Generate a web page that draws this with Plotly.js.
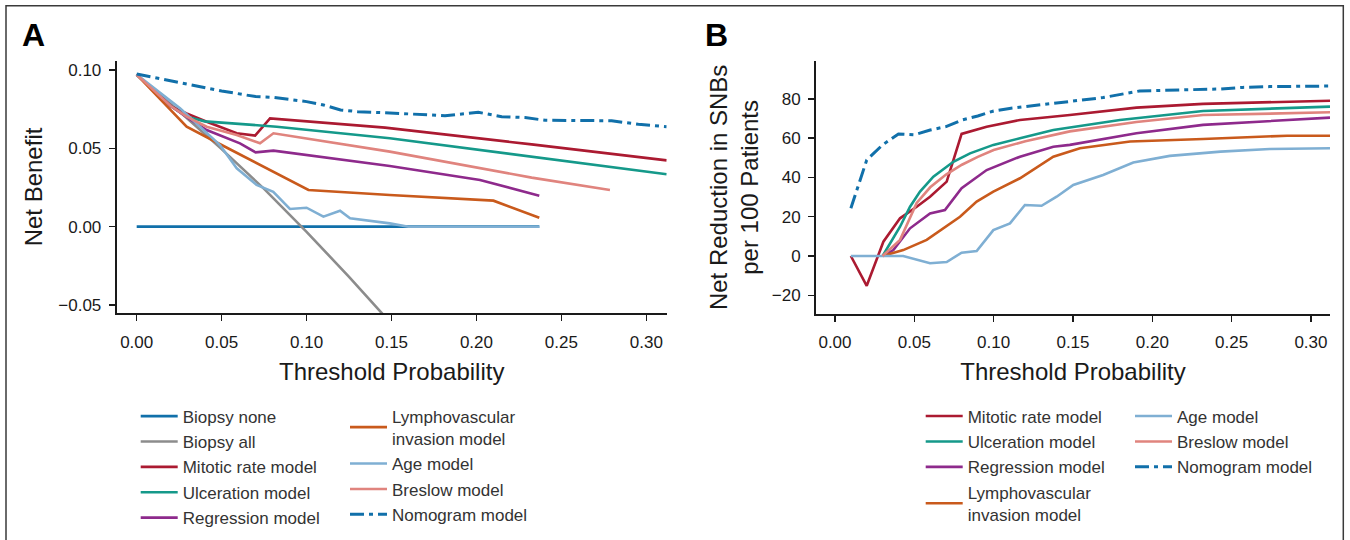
<!DOCTYPE html>
<html>
<head>
<meta charset="utf-8">
<script src="https://cdn.plot.ly/plotly-3.0.1.min.js"></script>
<style>html,body{margin:0;padding:0;background:#fff;}#chart{width:1350px;height:540px;}</style>
</head>
<body>
<div id="chart"></div>
<script>
// ---------- Panel A: Net Benefit ----------
const noneAX = [0, 0.237];
const noneAY = [0, 0];
const allAX = [0, 0.025, 0.05, 0.075, 0.1, 0.125, 0.15];
const allAY = [0.097, 0.0737, 0.0495, 0.0241, -0.0033, -0.032, -0.062];
const mitoticAX = [0, 0.0206, 0.0294, 0.0412, 0.0589, 0.0697, 0.0785, 0.1462, 0.2325, 0.312];
const mitoticAY = [0.097, 0.0766, 0.0723, 0.0670, 0.0596, 0.0581, 0.0691, 0.0632, 0.0525, 0.0423];
const ulcerAX = [0, 0.02, 0.0294, 0.04, 0.0824, 0.149, 0.312];
const ulcerAY = [0.097, 0.077, 0.0702, 0.0672, 0.0638, 0.0564, 0.0334];
const regressAX = [0, 0.02, 0.03, 0.0412, 0.0608, 0.07, 0.0805, 0.149, 0.2021, 0.237];
const regressAY = [0.097, 0.077, 0.0695, 0.0617, 0.0532, 0.0474, 0.0485, 0.0387, 0.0298, 0.0198];
const lymphAX = [0, 0.0294, 0.05, 0.1011, 0.149, 0.21, 0.237];
const lymphAY = [0.097, 0.0638, 0.0521, 0.0234, 0.0202, 0.0166, 0.0057];
const ageAX = [0, 0.0255, 0.049, 0.0589, 0.0706, 0.0804, 0.0902, 0.1, 0.1099, 0.1197, 0.1256, 0.149, 0.16, 0.237];
const ageAY = [0.097, 0.0755, 0.0521, 0.0372, 0.0266, 0.0223, 0.0113, 0.0121, 0.0064, 0.0102, 0.0053, 0.0021, 0, 0];
const breslowAX = [0, 0.02, 0.0294, 0.0412, 0.0589, 0.0726, 0.0805, 0.149, 0.2325, 0.2786];
const breslowAY = [0.097, 0.077, 0.0702, 0.0638, 0.0585, 0.0532, 0.0596, 0.0479, 0.0313, 0.0234];
const nomoAX = [0, 0.03, 0.05, 0.07, 0.08, 0.10, 0.11, 0.12, 0.13, 0.1462, 0.1815, 0.2011, 0.2149, 0.2286, 0.2404, 0.2796, 0.2953, 0.312];
const nomoAY = [0.0974, 0.091, 0.0866, 0.083, 0.0825, 0.0798, 0.0776, 0.0745, 0.0734, 0.0727, 0.0708, 0.0730, 0.0702, 0.0696, 0.0679, 0.0676, 0.0653, 0.0638];

// ---------- Panel B: Net reduction in SNBs per 100 patients ----------
const mitoticBX = [0.01, 0.02, 0.0305, 0.041, 0.0515, 0.0599, 0.0704, 0.0798, 0.0956, 0.1166, 0.148, 0.19, 0.232, 0.312];
const mitoticBY = [0, -15.2, 7.3, 19.2, 25.1, 30.2, 37.9, 62.2, 65.9, 69.3, 71.8, 75.6, 77.5, 79.1];
const ulcerBX = [0.03, 0.041, 0.0473, 0.0536, 0.062, 0.0746, 0.0851, 0.0998, 0.1166, 0.1376, 0.1796, 0.232, 0.312];
const ulcerBY = [0, 14.9, 25.1, 32.8, 40.4, 48, 52.3, 56.6, 60, 64.2, 69.3, 73.9, 76.1];
const regressBX = [0.03, 0.0368, 0.0473, 0.0599, 0.0693, 0.0798, 0.0956, 0.1166, 0.1376, 0.148, 0.19, 0.232, 0.312];
const regressBY = [0, 3, 14.1, 21.7, 23.4, 34.5, 43.8, 50.6, 55.7, 56.6, 62.5, 66.8, 70.5];
const lymphBX = [0.03, 0.043, 0.0578, 0.0683, 0.0788, 0.0893, 0.0998, 0.1166, 0.1292, 0.1376, 0.1544, 0.186, 0.232, 0.285, 0.312];
const lymphBY = [0, 3, 8.2, 14.1, 20, 27.7, 32.8, 39.6, 46.4, 50.6, 54.9, 58.3, 59.6, 61.3, 61.3];
const ageBX = [0.01, 0.043, 0.0599, 0.0704, 0.0798, 0.0893, 0.0998, 0.1103, 0.1197, 0.1302, 0.1397, 0.1502, 0.169, 0.188, 0.211, 0.243, 0.274, 0.312];
const ageBY = [0, 0, -3.7, -3.1, 1.7, 2.5, 13.2, 16.6, 26, 25.6, 30.2, 36.2, 41.3, 47.6, 51, 53.2, 54.5, 54.9];
const breslowBX = [0.03, 0.041, 0.0515, 0.06, 0.07, 0.08, 0.09, 0.10, 0.12, 0.148, 0.19, 0.232, 0.312];
const breslowBY = [0, 8.2, 27, 35, 41.5, 46.5, 50.5, 54, 58.5, 63.5, 68.3, 71.8, 73.2];
const nomoBX = [0.01, 0.02, 0.03, 0.04, 0.05, 0.06, 0.07, 0.08, 0.09, 0.10, 0.11, 0.12, 0.13, 0.14, 0.15, 0.169, 0.192, 0.211, 0.243, 0.257, 0.274, 0.312];
const nomoBY = [24.3, 48.9, 56.6, 62.2, 61.7, 64.2, 65.9, 69.3, 71.3, 73.9, 75.2, 76.1, 77.3, 78.1, 79.1, 80.7, 84.1, 84.6, 85.1, 85.9, 86.3, 86.6];

// tick labels
const xTickVals = [0, 0.05, 0.10, 0.15, 0.20, 0.25, 0.30];
const yTickValsA = [-0.05, 0, 0.05, 0.10];
const yTickValsB = [-20, 0, 20, 40, 60, 80];

const C = {
  none: '#1170aa', all: '#8c8c8c', mitotic: '#ab1a31', ulcer: '#15998a',
  regress: '#8e2a8c', lymph: '#c95a1c', age: '#7fafd3', breslow: '#e0847e', nomo: '#1170aa'
};
const NOMO_DASH = '14px,5px,4px,5px';
const W = 2.6;

function tr(x, y, name, color, xa, ya, leg, dash, width) {
  return {
    x: x, y: y, name: name, type: 'scatter', mode: 'lines',
    xaxis: xa, yaxis: ya, legend: leg, legendgroup: leg + name,
    line: {color: color, width: width || W, dash: dash || 'solid'},
    hoverinfo: 'skip'
  };
}

const data = [
  tr(noneAX, noneAY, 'Biopsy none', C.none, 'x', 'y', 'legend', null, 2.8),
  tr(allAX, allAY, 'Biopsy all', C.all, 'x', 'y', 'legend'),
  tr(mitoticAX, mitoticAY, 'Mitotic rate model', C.mitotic, 'x', 'y', 'legend'),
  tr(ulcerAX, ulcerAY, 'Ulceration model', C.ulcer, 'x', 'y', 'legend'),
  tr(regressAX, regressAY, 'Regression model', C.regress, 'x', 'y', 'legend'),
  tr(lymphAX, lymphAY, 'Lymphovascular<br>invasion model', C.lymph, 'x', 'y', 'legend2'),
  tr(ageAX, ageAY, 'Age model', C.age, 'x', 'y', 'legend2'),
  tr(breslowAX, breslowAY, 'Breslow model', C.breslow, 'x', 'y', 'legend2'),
  tr(nomoAX, nomoAY, 'Nomogram model', C.nomo, 'x', 'y', 'legend2', NOMO_DASH, 3),

  tr(mitoticBX, mitoticBY, 'Mitotic rate model', C.mitotic, 'x2', 'y2', 'legend3'),
  tr(ulcerBX, ulcerBY, 'Ulceration model', C.ulcer, 'x2', 'y2', 'legend3'),
  tr(regressBX, regressBY, 'Regression model', C.regress, 'x2', 'y2', 'legend3'),
  tr(lymphBX, lymphBY, 'Lymphovascular<br>invasion model', C.lymph, 'x2', 'y2', 'legend3'),
  tr(ageBX, ageBY, 'Age model', C.age, 'x2', 'y2', 'legend4'),
  tr(breslowBX, breslowBY, 'Breslow model', C.breslow, 'x2', 'y2', 'legend4'),
  tr(nomoBX, nomoBY, 'Nomogram model', C.nomo, 'x2', 'y2', 'legend4', NOMO_DASH, 3)
];

const FONT = 'Liberation Sans, Arial, Helvetica, sans-serif';
const INK = '#1a1a1a';

function xax(domain, range, anchor) {
  return {
    domain: domain, range: range, anchor: anchor,
    showline: true, linewidth: 2, linecolor: INK, mirror: false,
    ticks: 'outside', ticklen: 6, tickwidth: 1.5, tickcolor: INK,
    tickvals: xTickVals, tickformat: '.2f', ticklabelstandoff: 6,
    tickfont: {family: FONT, size: 17, color: INK},
    showgrid: false, zeroline: false, fixedrange: true,
    title: {text: 'Threshold Probability', font: {family: FONT, size: 24, color: INK}, standoff: 12}
  };
}
function yax(domain, range, anchor, vals, fmt, title, standoff) {
  return {
    domain: domain, range: range, anchor: anchor,
    showline: true, linewidth: 2, linecolor: INK, mirror: false,
    ticks: 'outside', ticklen: 6, tickwidth: 1.5, tickcolor: INK,
    tickvals: vals, tickformat: fmt, ticklabelstandoff: 4,
    tickfont: {family: FONT, size: 17, color: INK},
    showgrid: false, zeroline: false, fixedrange: true,
    title: {text: title, font: {family: FONT, size: 24, color: INK}, standoff: standoff}
  };
}
function leg(x, y) {
  return {
    x: x, y: y, xanchor: 'left', yanchor: 'top', xref: 'paper', yref: 'paper',
    orientation: 'v', traceorder: 'grouped', tracegroupgap: 0.3,
    bgcolor: 'rgba(0,0,0,0)', borderwidth: 0, itemwidth: 37,
    font: {family: FONT, size: 17, color: '#333333'}
  };
}

const LEG_TOP = 1 - 398.5 / 540;
const layout = {
  width: 1350, height: 540,
  margin: {l: 0, r: 0, t: 0, b: 0, pad: 0},
  paper_bgcolor: '#ffffff', plot_bgcolor: '#ffffff',
  font: {family: FONT, color: INK},
  showlegend: true,
  xaxis: xax([116.7 / 1350, 666.7 / 1350], [-0.01177, 0.312], 'y'),
  yaxis: yax([(540 - 313.3) / 540, (540 - 60.7) / 540], [-0.05527, 0.1059], 'x', yTickValsA, '.2f', 'Net Benefit', 9),
  xaxis2: xax([816 / 1350, 1330 / 1350], [-0.01197, 0.312], 'y2'),
  yaxis2: yax([(540 - 314) / 540, (540 - 60.7) / 540], [-29.55, 99.5], 'x2', yTickValsB, 'd', 'Net Reduction in SNBs<br>per 100 Patients', 6),
  legend: leg(135.7 / 1350, LEG_TOP),
  legend2: leg(345 / 1350, LEG_TOP),
  legend3: leg(920.7 / 1350, LEG_TOP),
  legend4: leg(1130 / 1350, LEG_TOP),
  annotations: [
    {text: '<b>A</b>', x: 33 / 1350, y: 1 - 35 / 540, xref: 'paper', yref: 'paper', xanchor: 'center', yanchor: 'middle', showarrow: false, font: {family: FONT, size: 32, color: '#000'}},
    {text: '<b>B</b>', x: 716 / 1350, y: 1 - 35 / 540, xref: 'paper', yref: 'paper', xanchor: 'center', yanchor: 'middle', showarrow: false, font: {family: FONT, size: 32, color: '#000'}}
  ],
  shapes: [
    {type: 'rect', xref: 'paper', yref: 'paper', x0: 6 / 1350, x1: 1343.3 / 1350, y0: -0.05, y1: 1 - 5.7 / 540, line: {color: '#3a3a3a', width: 1.5}, fillcolor: 'rgba(0,0,0,0)', layer: 'below'}
  ]
};

Plotly.newPlot('chart', data, layout, {staticPlot: true, displayModeBar: false});
</script>
</body>
</html>
